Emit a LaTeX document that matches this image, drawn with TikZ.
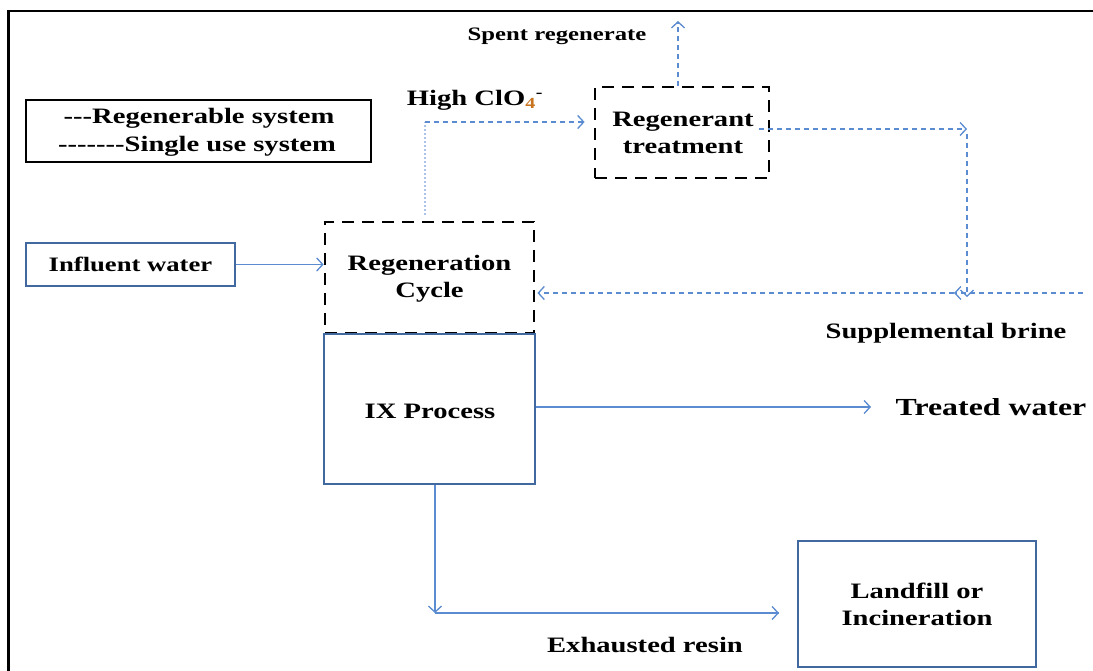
\documentclass[tikz,border=0pt]{standalone}
\usepackage{fontspec}
\setmainfont{Liberation Serif}[FakeStretch=1.3]
\usetikzlibrary{arrows.meta}
\definecolor{boxblue}{HTML}{41699F}
\definecolor{lineblue}{HTML}{5B8BD0}
\definecolor{paleblue}{HTML}{A9C4E8}
\definecolor{subor}{HTML}{C8741E}
\begin{document}
\begin{tikzpicture}[x=1pt,y=-1pt,
  lbl/.style={font=\fontsize{22}{27}\selectfont\bfseries, align=center, inner sep=0pt},
  sbox/.style={draw=boxblue, line width=2.2pt, inner sep=0pt},
  dbox/.style={draw=black, line width=2.8pt, dash pattern=on 12pt off 8pt, inner sep=0pt},
  flow/.style={draw=lineblue, line width=1.3pt, -{Straight Barb[length=6pt,width=13pt]}},
  dflow/.style={flow, dash pattern=on 5pt off 4pt},
  dotline/.style={draw=paleblue, line width=1.6pt, dash pattern=on 2pt off 2pt}]
\useasboundingbox (0,0) rectangle (1093,671);
\fill[white] (0,0) rectangle (1093,671);
% frame
\draw[line width=2.6pt] (1093,11) -- (8.5,11) -- (8.5,671);
% legend
\node[draw=black, line width=2.2pt, minimum width=345pt, minimum height=62pt, inner sep=0pt] (legend) at (198.5,131) {};
\node[lbl] (leg1) at (199,118) {-{}-{}-Regenerable system};
\node[lbl] (leg2) at (197,146) {-{}-{}-{}-{}-{}-{}-Single use system};
% boxes
\node[sbox, lbl, font=\fontsize{20.5}{25}\selectfont\bfseries, minimum width=209pt, minimum height=43pt] (influent) at (130.5,264.5) {Influent water};
\node[dbox, minimum width=209pt, minimum height=111pt] (regen) at (429.5,277.5) {};
\node[lbl] (regent) at (429.5,279) {Regeneration\\Cycle};
\node[sbox, minimum width=211pt, minimum height=150pt] (ix) at (429.5,409) {};
\node[lbl] (ixt) at (430,411) {IX Process};
\node[dbox, minimum width=174pt, minimum height=91pt] (regt) at (682,132.5) {};
\node[lbl] (regtt) at (683,133) {Regenerant\\treatment};
\node[sbox, lbl, minimum width=238pt, minimum height=126pt] (land) at (917,604) {Landfill or\\Incineration};
% labels
\node[lbl, font=\fontsize{24.5}{30}\selectfont\bfseries] (treated) at (991,407) {Treated water};
\node[lbl] (exh) at (645,645) {Exhausted resin};
\node[lbl] (brine) at (946,333) {Supplemental brine};
\node[lbl, font=\fontsize{19}{23}\selectfont\bfseries] (spent) at (557,36) {Spent regenerate};
\node[lbl] (high) at (475,100) {High ClO\textsubscript{\textcolor{subor}{4}}\textsuperscript{-}};
% coordinates
\coordinate (tw) at (871,407);
\coordinate (exA) at (435,613);
\coordinate (exB) at (779,613);
\coordinate (hc1) at (425,215);
\coordinate (hc2) at (425,122);
\coordinate (sp) at (678,21);
\coordinate (rt1) at (759,129);
\coordinate (rt2) at (967,129);
\coordinate (rt3) at (967,134);
\coordinate (rt4) at (967,297);
\coordinate (br1) at (1083,293);
\coordinate (br2) at (954,293);
% connectors
\draw[flow] (influent.east) -- (influent.east -| regen.west);
\draw[flow] (ix.east |- tw) -- (tw);
\draw[flow] (ix.south -| exA) -- (exA);
\draw[flow, -] (exA) -- (exB);
\draw[flow] ([xshift=-1pt]exB) -- (exB);
\draw[dotline] (hc1) -- (hc2);
\draw[dflow, shorten >=9pt] (hc2) -- (regt.west |- hc2);
\draw[dflow] (regt.north -| sp) -- (sp);
\draw[dflow] (rt1) -- (rt2);
\draw[dflow] (rt3) -- (rt4);
\draw[dflow] (br1) -- (br2);
\draw[dflow] (br2) -- ([xshift=2pt]regen.east |- br2);
\end{tikzpicture}
\end{document}
